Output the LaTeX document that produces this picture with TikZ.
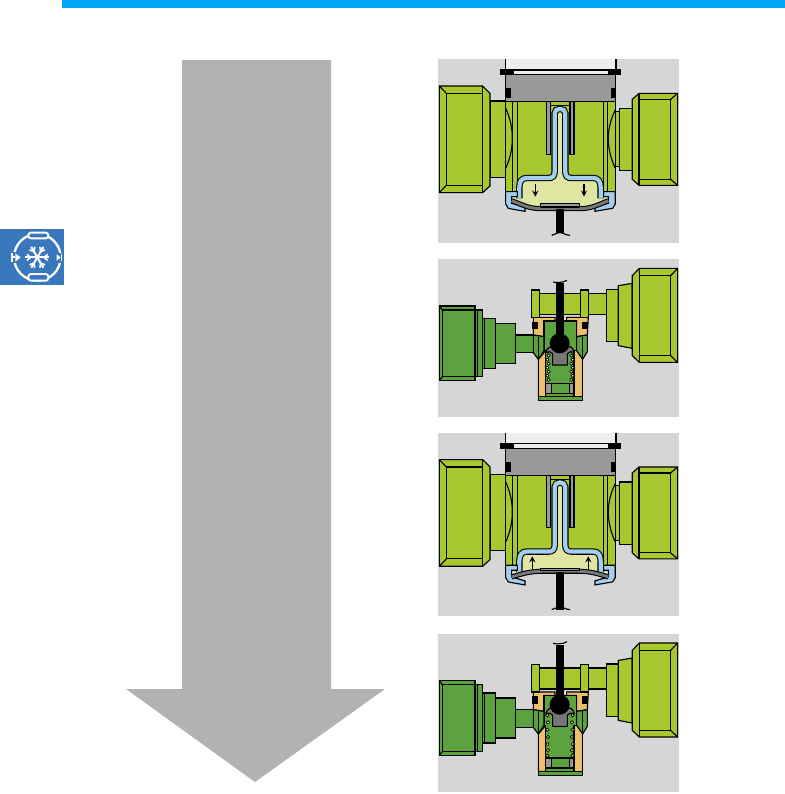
\documentclass[tikz,border=0pt]{standalone}
\definecolor{barblue}{HTML}{00A6F5}
\definecolor{iconblue}{HTML}{3A78BE}
\definecolor{arrowgrey}{HTML}{B2B2B2}
\definecolor{panelgrey}{HTML}{D6D6D6}
\definecolor{blockgrey}{HTML}{999999}
\definecolor{pistongrey}{HTML}{777777}
\definecolor{lime}{HTML}{A8C830}
\definecolor{darkgreen}{HTML}{5CA23E}
\definecolor{palegreen}{HTML}{DEE6A2}
\definecolor{skyblue}{HTML}{A4CEF0}
\definecolor{sandorange}{HTML}{EDBE6C}
\definecolor{coilpale}{HTML}{F2E6B0}
\tikzset{
  part/.style={draw=black,line width=0.85pt,line join=miter},
  limepart/.style={part,fill=lime},
  greenpart/.style={part,fill=darkgreen},
  sandpart/.style={part,fill=sandorange},
  greypart/.style={part,fill=blockgrey},
  panel/.style={fill=panelgrey},
  pressure/.style={->,line width=1pt},
}
% diaphragm valve, #1 = diaphragm curve from left to right
\newcommand{\diaphragmvalve}[1]{
  \fill[panel] (24,27) rectangle (746,578);
  \fill[white!93!black] (227,27) rectangle (558,60);
  \draw[part] (227,27) -- (227,60);
  \draw[part] (558,27) -- (558,60);
  % left nut
  \draw[limepart] (182,153) rectangle (227,382);
  \draw[limepart] (28,108) -- (158,108) -- (180,130) -- (180,408) -- (158,428) -- (28,428) -- cycle;
  \draw[part] (49,130) rectangle (158,406);
  \draw[part] (28,108) -- (49,130);
  \draw[part] (28,428) -- (49,406);
  \draw[part] (158,108) -- (158,130);
  \draw[part] (158,406) -- (158,428);
  % right nut
  \draw[limepart] (556,185) rectangle (568,350);
  \draw[limepart] (568,175) rectangle (607,362);
  \draw[limepart] (607,148) -- (627,130) -- (743,130) -- (743,406) -- (627,406) -- (607,388) -- cycle;
  \draw[part] (627,148) rectangle (722,388);
  \draw[part] (722,148) -- (743,130);
  \draw[part] (722,388) -- (743,406);
  \draw[part] (627,130) -- (627,148);
  \draw[part] (627,388) -- (627,406);
  % body
  \draw[limepart] (227,155) rectangle (556,425);
  \draw[part] (227,175) .. controls (241,205) and (247,235) .. (247,265) .. controls (247,295) and (241,325) .. (227,355);
  \draw[part] (556,180) .. controls (542,208) and (535,237) .. (535,265) .. controls (535,295) and (542,325) .. (556,355);
  \foreach \xline in {247,262,520,533}
    \draw[part] (\xline,155) -- (\xline,425);
  % top block
  \draw[greypart] (227,74) rectangle (556,155);
  \draw[part,fill=white!93!black] (213,60) rectangle (571,74);
  \fill[black] (213,58) rectangle (252,74);
  \fill[black] (535,58) rectangle (571,74);
  \fill[black] (227,114) rectangle (243,145);
  \fill[black] (543,114) rectangle (558,145);
  \draw[greypart] (350,155) rectangle (362,313);
  \draw[greypart] (420,155) rectangle (432,313);
  \draw[part] (362,167) -- (420,167);
  % membrane
  \fill[palegreen] #1 -- (512,412) .. controls (512,395) and (505,384) .. (490,384) -- (425,384) .. controls (412,384) and (406,378) .. (406,365) -- (406,190) .. controls (406,172) and (374,172) .. (374,190) -- (374,365) .. controls (374,378) and (368,384) .. (355,384) -- (290,384) .. controls (275,384) and (268,395) .. (268,412) -- cycle;
  \foreach \wd/\col in {4.8pt/black,3.2pt/skyblue}
    \draw[line width=\wd,color=\col] (268,445) -- (268,412) .. controls (268,395) and (275,384) .. (290,384) -- (355,384) .. controls (368,384) and (374,378) .. (374,365) -- (374,190) .. controls (374,172) and (406,172) .. (406,190) -- (406,365) .. controls (406,378) and (412,384) .. (425,384) -- (490,384) .. controls (505,384) and (512,395) .. (512,412) -- (512,445);
  % flanges
  \draw[part,fill=skyblue] (227,425) -- (262,425) -- (262,440) -- (245,440) -- (245,460) -- (285,472) -- (285,484) -- (250,478) -- (235,475) -- (227,462) -- cycle;
  \draw[part,fill=skyblue] (556,425) -- (521,425) -- (521,440) -- (535,440) -- (535,460) -- (495,472) -- (495,484) -- (530,478) -- (548,475) -- (556,462) -- cycle;
}
% diaphragm curve and plate, drawn over the flanges
\newcommand{\diaphragmline}[1]{
  \foreach \wd/\col in {3.8pt/black,2.2pt/pistongrey}
    \draw[line width=\wd,color=\col] #1;
}
% ball valve, #1 = travel of the rod, #2 = coil list
\newcommand{\ballvalve}[2]{
  \fill[panel] (24,12) rectangle (746,487);
  % left nut
  \draw[greenpart] (257,240) rectangle (312,293);
  \draw[greenpart] (197,205) rectangle (257,325);
  \draw[greenpart] (158,190) rectangle (197,340);
  \draw[part] (163,190) -- (163,340);
  \draw[greenpart] (135,165) rectangle (158,365);
  \draw[part] (142,165) -- (142,365);
  \draw[greenpart] (28,153) rectangle (135,377);
  \draw[part] (37,165) rectangle (135,365);
  \draw[part] (28,153) -- (37,165);
  \draw[part] (28,377) -- (37,365);
  % right nut
  \draw[limepart] (328,115) rectangle (452,178);
  \draw[limepart] (475,115) rectangle (530,178);
  \draw[limepart] (530,103) rectangle (565,260);
  \draw[limepart] (565,92) -- (607,85) -- (607,280) -- (565,272) -- cycle;
  \draw[limepart] (607,62) -- (628,40) -- (743,40) -- (743,322) -- (628,322) -- (607,302) -- cycle;
  \draw[part] (628,62) rectangle (722,302);
  \draw[part] (722,62) -- (743,40);
  \draw[part] (722,302) -- (743,322);
  \draw[part] (628,40) -- (628,62);
  \draw[part] (628,302) -- (628,322);
  % housing
  \draw[sandpart] (310,187) -- (375,187) -- (375,197) -- (342,197) -- (342,245) -- (310,240) -- cycle;
  \draw[sandpart] (410,187) -- (475,187) -- (472,240) -- (440,245) -- (440,197) -- (410,197) -- cycle;
  \draw[limepart] (305,105) rectangle (328,187);
  \draw[limepart] (452,105) rectangle (475,187);
  \fill[black] (306,200) rectangle (325,223);
  \fill[black] (457,200) rectangle (473,223);
  \draw[sandpart] (325,313) -- (347,287) -- (347,425) -- (325,425) -- cycle;
  \draw[sandpart] (432,287) -- (458,287) -- (458,425) -- (432,425) -- cycle;
  \draw[greenpart] (342,198) -- (440,198) -- (440,287) -- (432,287) -- (432,425) -- (347,425) -- (347,287) -- (342,287) -- cycle;
  \draw[greenpart] (310,240) -- (342,245) -- (342,287) -- (325,313) -- (310,293) -- cycle;
  \draw[part] (325,245) -- (325,313);
  \draw[greenpart] (440,245) -- (472,240) -- (472,290) -- (458,313) -- (440,287) -- cycle;
  \draw[part] (458,245) -- (458,313);
  \draw[greenpart] (325,425) rectangle (458,437);
  \draw[greypart] (347,385) rectangle (365,415);
  \draw[greypart] (418,385) rectangle (432,415);
  \draw[part] (365,385) -- (418,385);
  \draw[part] (347,415) -- (432,415);
  % coils
  \foreach \ycoil/\xleft/\xright in {#2}{
    \draw[black,fill=coilpale,line width=0.5pt] (\xleft,\ycoil) circle (5);
    \draw[black,fill=coilpale,line width=0.5pt] (\xright,\ycoil) circle (5);
  }
  % rod, ball and piston
  \begin{scope}[shift={(0,#1)}]
    \draw[part,fill=pistongrey] (347,292) .. controls (352,278) and (362,272) .. (368,276) -- (412,276) .. controls (420,272) and (430,278) .. (433,292) .. controls (425,288) and (418,290) .. (412,296) -- (412,330) -- (368,330) -- (368,296) .. controls (362,290) and (355,288) .. (347,292) -- cycle;
    \fill[black] (378,85) rectangle (401,265);
    \fill[black] (389,265) circle (30);
    \draw[part] (369,81) .. controls (378,86) and (382,80) .. (390,82) .. controls (398,84) and (402,78) .. (411,76);
  \end{scope}
}
\begin{document}
\begin{tikzpicture}[x=0.75pt,y=-0.75pt]
  \tikzset{>=stealth}
  \useasboundingbox (0,0) rectangle (785,794);
  \fill[white] (0,0) rectangle (785,794);
  \fill[barblue] (62,0) rectangle (785,8);

  % big arrow
  \fill[arrowgrey] (182,60) -- (331,60) -- (331,689) -- (385,689) -- (255,782) -- (126,689) -- (182,689) -- cycle;

  % icon
  \begin{scope}[shift={(0,220)},scale=0.3333]
    \fill[iconblue] (0,28) rectangle (192,195);
    \draw[white,line width=1.7pt] (112,112) circle (70);
    \draw[white,line width=1.4pt,fill=iconblue,rounded corners=2pt] (85,38) rectangle (145,55);
    \draw[white,line width=1.4pt,fill=iconblue,rounded corners=2pt] (85,162) rectangle (145,182);
    \fill[iconblue] (26,95) rectangle (60,130);
    \fill[white] (46,100) -- (62,112) -- (46,125) -- cycle;
    \draw[white,line width=1.4pt] (35,100) -- (35,125);
    \draw[white,line width=1.4pt] (35,112) -- (46,112);
    \fill[iconblue] (168,98) rectangle (190,128);
    \fill[white] (170,103) -- (182,112) -- (170,122) -- cycle;
    \draw[white,line width=0.8pt] (184,102) -- (184,122);
    \foreach \ang in {0,60,120,180,240,300}{
      \begin{scope}[shift={(112,112)},rotate=\ang]
        \draw[white,line width=1.5pt] (0,0) -- (36,0);
        \draw[white,line width=1.2pt] (20,0) -- (31,9);
        \draw[white,line width=1.2pt] (20,0) -- (31,-9);
      \end{scope}
    }
  \end{scope}

  % first panel
  \begin{scope}[shift={(430,50)},scale=0.3333]
    \diaphragmvalve{(245,452) .. controls (285,468) and (300,476) .. (335,476) -- (447,476) .. controls (482,476) and (497,468) .. (535,452)}
    \diaphragmline{(245,452) .. controls (285,468) and (300,476) .. (335,476) -- (447,476) .. controls (482,476) and (497,468) .. (535,452)}
    \draw[greypart] (332,461) rectangle (448,471);
    \fill[black] (378,478) rectangle (402,548);
    \draw[part] (365,556) .. controls (375,556) and (378,547) .. (390,548) .. controls (402,549) and (408,556) .. (420,556);
    \draw[pressure] (316,402) -- (316,440);
    \draw[pressure] (462,402) -- (462,440);
  \end{scope}

  % second panel
  \begin{scope}[shift={(430,255)},scale=0.3333]
    \ballvalve{0}{290/352/428,302/356/424,314/352/428,326/356/424,338/352/428,350/356/424,362/352/428,374/356/424}
  \end{scope}

  % third panel
  \begin{scope}[shift={(430,423.6)},scale=0.3333]
    \diaphragmvalve{(245,460) .. controls (285,448) and (300,444) .. (335,443) -- (447,443) .. controls (482,444) and (497,448) .. (535,460)}
    \diaphragmline{(245,460) .. controls (285,448) and (300,444) .. (335,443) -- (447,443) .. controls (482,444) and (497,448) .. (535,460)}
    \draw[greypart] (332,434) rectangle (448,441);
    \fill[black] (378,445) rectangle (402,558);
    \draw[part] (365,558) .. controls (375,558) and (378,549) .. (390,550) .. controls (402,551) and (408,558) .. (420,558);
    \draw[pressure] (307,436) -- (307,398);
    \draw[pressure] (475,436) -- (475,398);
  \end{scope}

  % fourth panel
  \begin{scope}[shift={(430,629.7)},scale=0.3333]
    \ballvalve{-40}{257/352/428,278/354/426,300/352/428,322/354/426,343/352/428,362/354/426,378/352/428}
  \end{scope}
\end{tikzpicture}
\end{document}
